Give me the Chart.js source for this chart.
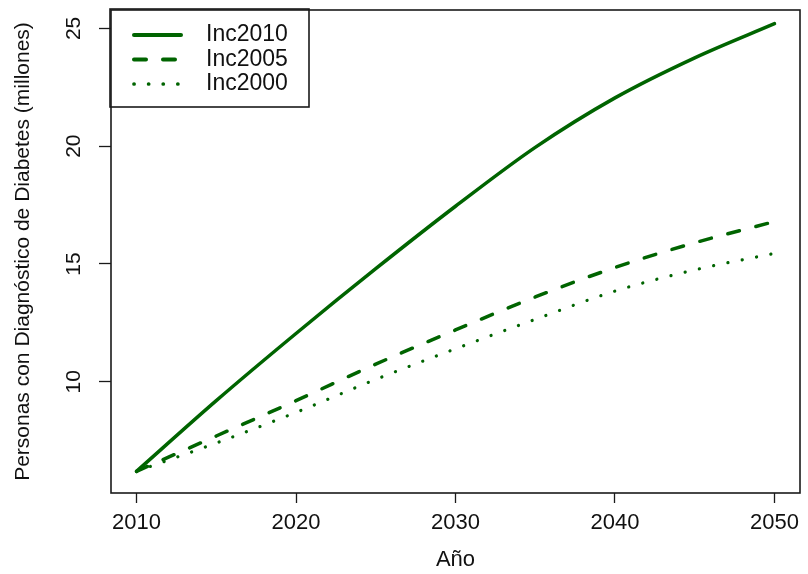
<!DOCTYPE html>
<html>
<head>
<meta charset="utf-8">
<script src="https://cdn.jsdelivr.net/npm/chart.js@4"></script>
<style>
  html, body { margin: 0; padding: 0; background: #fff; }
  #wrap { width: 808px; height: 574px; }
</style>
</head>
<body>
<div id="wrap"><canvas id="main-chart" width="808" height="574"></canvas></div>
<script>
// datos
var years = [2010, 2015, 2020, 2025, 2030, 2035, 2040, 2045, 2050];
var inc2010 = [6.2, 9.2, 12.05, 14.8, 17.45, 19.95, 22.05, 23.75, 25.2];
var inc2005 = [6.2, 7.7, 9.2, 10.75, 12.2, 13.6, 14.85, 15.9, 16.8];
var inc2000 = [6.2, 7.4, 8.7, 10.1, 11.4, 12.65, 13.85, 14.75, 15.45];
var xTicks = [2010, 2020, 2030, 2040, 2050];
var yTicks = [10, 15, 20, 25];
var seriesLabels = ['Inc2010', 'Inc2005', 'Inc2000'];

var green = '#006400';
var fontFamily = '"Liberation Sans", Arial, Helvetica, sans-serif';

function toPoints(values) {
    return years.map(function (y, i) { return { x: y, y: values[i] }; });
}

// marco, etiquetas del eje y giradas y leyenda tipo R
var rStyle = {
    id: 'rStyle',
    afterDraw: function (chart) {
        var ctx = chart.ctx;
        var ca = chart.chartArea;
        ctx.save();
        ctx.strokeStyle = '#1a1a1a';
        ctx.lineWidth = 1.6;
        ctx.strokeRect(ca.left, ca.top, ca.right - ca.left, ca.bottom - ca.top);

        // etiquetas del eje y (verticales)
        var ys = chart.scales.y;
        ctx.fillStyle = '#111';
        ctx.font = '21px ' + fontFamily;
        ctx.textAlign = 'center';
        ctx.textBaseline = 'middle';
        yTicks.forEach(function (v) {
            var py = ys.getPixelForValue(v);
            ctx.save();
            ctx.translate(74, py);
            ctx.rotate(-Math.PI / 2);
            ctx.fillText(String(v), 0, 0);
            ctx.restore();
        });

        // leyenda
        var x0 = ca.left - 1, y0 = ca.top - 1;
        ctx.lineWidth = 1.6;
        ctx.strokeStyle = '#1a1a1a';
        ctx.strokeRect(x0, y0, 199, 98);
        chart.data.datasets.forEach(function (ds, i) {
            var ly = y0 + 26 + i * 24.5;
            ctx.beginPath();
            ctx.strokeStyle = ds.borderColor;
            ctx.lineWidth = ds.borderWidth + 0.5;
            ctx.lineCap = 'round';
            ctx.setLineDash(ds.borderDash || []);
            ctx.moveTo(x0 + 24, ly);
            ctx.lineTo(x0 + 71, ly);
            ctx.stroke();
            ctx.setLineDash([]);
            ctx.fillStyle = '#111';
            ctx.textAlign = 'left';
            ctx.textBaseline = 'middle';
            ctx.font = '23px ' + fontFamily;
            ctx.fillText(ds.label, x0 + 96, ly);
        });
        ctx.restore();
    }
};

var chartCtx = document.querySelector('#main-chart').getContext('2d');
var diabetesChart = new Chart(chartCtx, {
    type: 'line',
    data: {
        datasets: [{
            label: seriesLabels[0],
            data: toPoints(inc2010),
            borderColor: green,
            borderWidth: 3.5,
            borderCapStyle: 'round',
            borderDash: [],
            cubicInterpolationMode: 'monotone',
            pointRadius: 0,
            fill: false
        }, {
            label: seriesLabels[1],
            data: toPoints(inc2005),
            borderColor: green,
            borderWidth: 3.5,
            borderCapStyle: 'round',
            borderDash: [12, 17],
            cubicInterpolationMode: 'monotone',
            pointRadius: 0,
            fill: false
        }, {
            label: seriesLabels[2],
            data: toPoints(inc2000),
            borderColor: green,
            borderWidth: 3.2,
            borderCapStyle: 'round',
            borderDash: [0.1, 14.5],
            cubicInterpolationMode: 'monotone',
            pointRadius: 0,
            fill: false
        }]
    },
    options: {
        responsive: false,
        animation: false,
        devicePixelRatio: 1,
        layout: { padding: { top: 10, right: 8, left: 0, bottom: 0 } },
        plugins: {
            legend: { display: false },
            tooltip: { enabled: false }
        },
        scales: {
            x: {
                type: 'linear',
                min: 2008.4,
                max: 2051.6,
                afterBuildTicks: function (scale) {
                    scale.ticks = xTicks.map(function (v) { return { value: v }; });
                },
                afterFit: function (scale) { scale.height = 81; },
                grid: {
                    drawOnChartArea: false,
                    tickLength: 10,
                    tickWidth: 1.3,
                    tickColor: '#1a1a1a'
                },
                border: { display: false },
                ticks: {
                    color: '#111',
                    font: { family: fontFamily, size: 22 },
                    padding: 7,
                    maxRotation: 0,
                    autoSkip: false,
                    callback: function (v) { return String(v); }
                },
                title: {
                    display: true,
                    text: 'Año',
                    color: '#111',
                    font: { family: fontFamily, size: 22 },
                    padding: { top: 0, bottom: 1 }
                }
            },
            y: {
                type: 'linear',
                min: 5.28,
                max: 25.78,
                afterBuildTicks: function (scale) {
                    scale.ticks = yTicks.map(function (v) { return { value: v }; });
                },
                afterFit: function (scale) { scale.width = 111; },
                grid: {
                    drawOnChartArea: false,
                    tickLength: 12,
                    tickWidth: 1.3,
                    tickColor: '#1a1a1a'
                },
                border: { display: false },
                ticks: { display: false },
                title: {
                    display: true,
                    text: 'Personas con Diagnóstico de Diabetes (millones)',
                    color: '#111',
                    font: { family: fontFamily, size: 21 },
                    padding: { top: 11, bottom: 0 }
                }
            }
        }
    },
    plugins: [rStyle]
});
</script>
</body>
</html>
